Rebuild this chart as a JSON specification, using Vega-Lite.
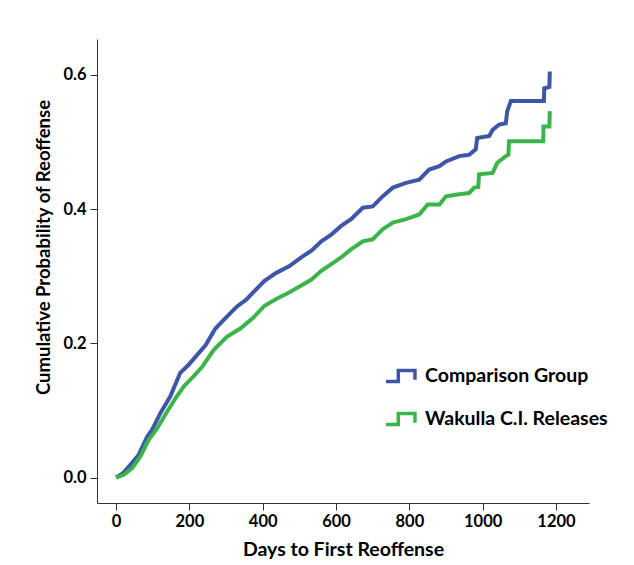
{
  "$schema": "https://vega.github.io/schema/vega-lite/v6.json",
  "width": 492,
  "height": 464,
  "autosize": {"type": "none"},
  "padding": {"left": 97, "top": 39, "right": 45, "bottom": 62},
  "background": "white",
  "config": {"view": {"stroke": null}, "font": "Lato"},
  "data": {
    "values": [
      {"i": 1, "group": "Comparison Group", "days": 0, "p": 0},
      {"i": 2, "group": "Comparison Group", "days": 18, "p": 0.006},
      {"i": 3, "group": "Comparison Group", "days": 39, "p": 0.019},
      {"i": 4, "group": "Comparison Group", "days": 62, "p": 0.034},
      {"i": 5, "group": "Comparison Group", "days": 85, "p": 0.061},
      {"i": 6, "group": "Comparison Group", "days": 98, "p": 0.071},
      {"i": 7, "group": "Comparison Group", "days": 121, "p": 0.096},
      {"i": 8, "group": "Comparison Group", "days": 148, "p": 0.121},
      {"i": 9, "group": "Comparison Group", "days": 175, "p": 0.156},
      {"i": 10, "group": "Comparison Group", "days": 198, "p": 0.168},
      {"i": 11, "group": "Comparison Group", "days": 220, "p": 0.182},
      {"i": 12, "group": "Comparison Group", "days": 244, "p": 0.197},
      {"i": 13, "group": "Comparison Group", "days": 271, "p": 0.222},
      {"i": 14, "group": "Comparison Group", "days": 303, "p": 0.240},
      {"i": 15, "group": "Comparison Group", "days": 330, "p": 0.255},
      {"i": 16, "group": "Comparison Group", "days": 355, "p": 0.265},
      {"i": 17, "group": "Comparison Group", "days": 374, "p": 0.276},
      {"i": 18, "group": "Comparison Group", "days": 405, "p": 0.293},
      {"i": 19, "group": "Comparison Group", "days": 437, "p": 0.305},
      {"i": 20, "group": "Comparison Group", "days": 473, "p": 0.315},
      {"i": 21, "group": "Comparison Group", "days": 505, "p": 0.328},
      {"i": 22, "group": "Comparison Group", "days": 533, "p": 0.338},
      {"i": 23, "group": "Comparison Group", "days": 560, "p": 0.352},
      {"i": 24, "group": "Comparison Group", "days": 587, "p": 0.362},
      {"i": 25, "group": "Comparison Group", "days": 614, "p": 0.375},
      {"i": 26, "group": "Comparison Group", "days": 641, "p": 0.385},
      {"i": 27, "group": "Comparison Group", "days": 673, "p": 0.402},
      {"i": 28, "group": "Comparison Group", "days": 700, "p": 0.404},
      {"i": 29, "group": "Comparison Group", "days": 727, "p": 0.419},
      {"i": 30, "group": "Comparison Group", "days": 755, "p": 0.432},
      {"i": 31, "group": "Comparison Group", "days": 791, "p": 0.439},
      {"i": 32, "group": "Comparison Group", "days": 827, "p": 0.444},
      {"i": 33, "group": "Comparison Group", "days": 854, "p": 0.459},
      {"i": 34, "group": "Comparison Group", "days": 882, "p": 0.464},
      {"i": 35, "group": "Comparison Group", "days": 900, "p": 0.471},
      {"i": 36, "group": "Comparison Group", "days": 936, "p": 0.479},
      {"i": 37, "group": "Comparison Group", "days": 963, "p": 0.481},
      {"i": 38, "group": "Comparison Group", "days": 981, "p": 0.489},
      {"i": 39, "group": "Comparison Group", "days": 985, "p": 0.506},
      {"i": 40, "group": "Comparison Group", "days": 1018, "p": 0.509},
      {"i": 41, "group": "Comparison Group", "days": 1027, "p": 0.518},
      {"i": 42, "group": "Comparison Group", "days": 1045, "p": 0.526},
      {"i": 43, "group": "Comparison Group", "days": 1063, "p": 0.528},
      {"i": 44, "group": "Comparison Group", "days": 1067, "p": 0.546},
      {"i": 45, "group": "Comparison Group", "days": 1077, "p": 0.561},
      {"i": 46, "group": "Comparison Group", "days": 1167, "p": 0.561},
      {"i": 47, "group": "Comparison Group", "days": 1168, "p": 0.580},
      {"i": 48, "group": "Comparison Group", "days": 1182, "p": 0.582},
      {"i": 49, "group": "Comparison Group", "days": 1183, "p": 0.605},
      {"i": 1, "group": "Wakulla C.I. Releases", "days": 0, "p": 0},
      {"i": 2, "group": "Wakulla C.I. Releases", "days": 21, "p": 0.004},
      {"i": 3, "group": "Wakulla C.I. Releases", "days": 44, "p": 0.014},
      {"i": 4, "group": "Wakulla C.I. Releases", "days": 66, "p": 0.031},
      {"i": 5, "group": "Wakulla C.I. Releases", "days": 89, "p": 0.056},
      {"i": 6, "group": "Wakulla C.I. Releases", "days": 112, "p": 0.073},
      {"i": 7, "group": "Wakulla C.I. Releases", "days": 139, "p": 0.098},
      {"i": 8, "group": "Wakulla C.I. Releases", "days": 162, "p": 0.118},
      {"i": 9, "group": "Wakulla C.I. Releases", "days": 185, "p": 0.136},
      {"i": 10, "group": "Wakulla C.I. Releases", "days": 212, "p": 0.151},
      {"i": 11, "group": "Wakulla C.I. Releases", "days": 235, "p": 0.165},
      {"i": 12, "group": "Wakulla C.I. Releases", "days": 266, "p": 0.190},
      {"i": 13, "group": "Wakulla C.I. Releases", "days": 303, "p": 0.210},
      {"i": 14, "group": "Wakulla C.I. Releases", "days": 339, "p": 0.222},
      {"i": 15, "group": "Wakulla C.I. Releases", "days": 374, "p": 0.238},
      {"i": 16, "group": "Wakulla C.I. Releases", "days": 405, "p": 0.256},
      {"i": 17, "group": "Wakulla C.I. Releases", "days": 437, "p": 0.266},
      {"i": 18, "group": "Wakulla C.I. Releases", "days": 473, "p": 0.276},
      {"i": 19, "group": "Wakulla C.I. Releases", "days": 505, "p": 0.286},
      {"i": 20, "group": "Wakulla C.I. Releases", "days": 533, "p": 0.295},
      {"i": 21, "group": "Wakulla C.I. Releases", "days": 560, "p": 0.308},
      {"i": 22, "group": "Wakulla C.I. Releases", "days": 587, "p": 0.318},
      {"i": 23, "group": "Wakulla C.I. Releases", "days": 614, "p": 0.328},
      {"i": 24, "group": "Wakulla C.I. Releases", "days": 641, "p": 0.340},
      {"i": 25, "group": "Wakulla C.I. Releases", "days": 673, "p": 0.352},
      {"i": 26, "group": "Wakulla C.I. Releases", "days": 700, "p": 0.355},
      {"i": 27, "group": "Wakulla C.I. Releases", "days": 727, "p": 0.370},
      {"i": 28, "group": "Wakulla C.I. Releases", "days": 755, "p": 0.380},
      {"i": 29, "group": "Wakulla C.I. Releases", "days": 791, "p": 0.385},
      {"i": 30, "group": "Wakulla C.I. Releases", "days": 827, "p": 0.392},
      {"i": 31, "group": "Wakulla C.I. Releases", "days": 850, "p": 0.407},
      {"i": 32, "group": "Wakulla C.I. Releases", "days": 882, "p": 0.407},
      {"i": 33, "group": "Wakulla C.I. Releases", "days": 900, "p": 0.419},
      {"i": 34, "group": "Wakulla C.I. Releases", "days": 936, "p": 0.422},
      {"i": 35, "group": "Wakulla C.I. Releases", "days": 963, "p": 0.424},
      {"i": 36, "group": "Wakulla C.I. Releases", "days": 977, "p": 0.432},
      {"i": 37, "group": "Wakulla C.I. Releases", "days": 988, "p": 0.433},
      {"i": 38, "group": "Wakulla C.I. Releases", "days": 990, "p": 0.452},
      {"i": 39, "group": "Wakulla C.I. Releases", "days": 1027, "p": 0.454},
      {"i": 40, "group": "Wakulla C.I. Releases", "days": 1040, "p": 0.469},
      {"i": 41, "group": "Wakulla C.I. Releases", "days": 1063, "p": 0.479},
      {"i": 42, "group": "Wakulla C.I. Releases", "days": 1070, "p": 0.481},
      {"i": 43, "group": "Wakulla C.I. Releases", "days": 1072, "p": 0.501},
      {"i": 44, "group": "Wakulla C.I. Releases", "days": 1165, "p": 0.501},
      {"i": 45, "group": "Wakulla C.I. Releases", "days": 1166, "p": 0.523},
      {"i": 46, "group": "Wakulla C.I. Releases", "days": 1182, "p": 0.523},
      {"i": 47, "group": "Wakulla C.I. Releases", "days": 1183, "p": 0.546}
    ]
  },
  "mark": {"type": "line", "strokeWidth": 4, "interpolate": "linear", "clip": true},
  "encoding": {
    "x": {
      "field": "days",
      "type": "quantitative",
      "scale": {"domain": [-52, 1290], "nice": false, "zero": false},
      "axis": {
        "values": [0, 200, 400, 600, 800, 1000, 1200],
        "format": "d",
        "title": "Days to First Reoffense",
        "grid": false,
        "domainColor": "#333333",
        "tickColor": "#333333",
        "tickSize": 7,
        "labelFont": "Lato",
        "labelFontWeight": "bold",
        "labelFontSize": 16.5,
        "labelColor": "#000000",
        "labelPadding": 3,
        "titleFont": "Lato",
        "titleFontSize": 19.5,
        "titleFontWeight": "bold",
        "titleColor": "#000000",
        "titleY": 46,
        "titleBaseline": "middle"
      }
    },
    "y": {
      "field": "p",
      "type": "quantitative",
      "scale": {"domain": [-0.038, 0.6535], "nice": false, "zero": false},
      "axis": {
        "values": [0, 0.2, 0.4, 0.6],
        "format": ".1f",
        "title": "Cumulative Probability of Reoffense",
        "grid": false,
        "domainColor": "#333333",
        "tickColor": "#333333",
        "tickSize": 7,
        "labelFont": "Lato",
        "labelFontWeight": "bold",
        "labelFontSize": 16.5,
        "labelColor": "#000000",
        "labelPadding": 4,
        "titleFont": "Lato",
        "titleFontSize": 18.5,
        "titleFontWeight": "bold",
        "titleColor": "#000000",
        "titleX": -54,
        "titleY": 208,
        "titleAlign": "center",
        "titleBaseline": "middle"
      }
    },
    "color": {
      "field": "group",
      "type": "nominal",
      "scale": {
        "domain": ["Comparison Group", "Wakulla C.I. Releases"],
        "range": ["#3E56A8", "#3BB54A"]
      },
      "legend": {
        "title": null,
        "orient": "none",
        "legendX": 287,
        "legendY": 320,
        "padding": 0,
        "symbolType": "M-1,0.37L-0.18,0.37L-0.18,-0.37L0.93,-0.37L0.93,0.25",
        "symbolSize": 900,
        "symbolStrokeWidth": 3.5,
        "symbolFillColor": "transparent",
        "labelFont": "Lato",
        "labelFontWeight": "bold",
        "labelFontSize": 19.5,
        "labelColor": "#000000",
        "labelOffset": 7,
        "rowPadding": 13,
        "labelLimit": 300
      }
    },
    "order": {"field": "i", "type": "quantitative"}
  }
}
